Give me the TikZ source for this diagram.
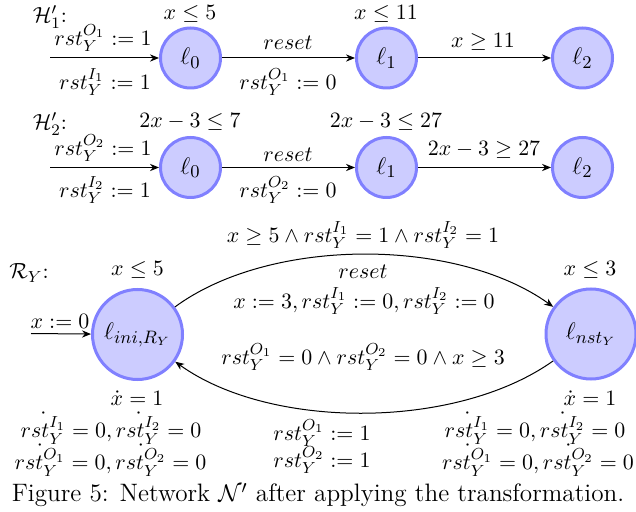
\documentclass[tikz,border=0pt]{standalone}
\usetikzlibrary{arrows.meta}
\DeclareMathSizes{10.9}{10.9}{7.8}{6}
\begin{document}
\begin{tikzpicture}[x=0.5pt,y=-0.5pt,
  loc/.style={circle, draw=blue!50, fill=blue!20, line width=1.5pt, minimum size=30pt, inner sep=0pt, font=\fontsize{12.5}{15}\selectfont},
  bigloc/.style={loc, minimum size=45pt},
  arr/.style={-{Stealth[length=4.5pt,width=3.6pt]}, line width=0.5pt},
  lbl/.style={inner sep=0pt, font=\fontsize{10.9}{13}\selectfont}]
\useasboundingbox (0,0) rectangle (636,512);
% Row 1
\node[lbl] (h1) at (50,17) {$\mathcal{H}'_1$:};
\node[loc] (a0) at (190.5,58) {$\ell_0$};
\node[loc] (a1) at (386.5,58) {$\ell_1$};
\node[loc] (a2) at (582.5,58) {$\ell_2$};
\coordinate (a0in) at (50,58);
\draw[arr] (a0in) -- (a0);
\draw[arr] (a0) -- (a1);
\draw[arr] (a1) -- (a2);
\node[lbl] (a0inv) at (190,14) {$x \leq 5$};
\node[lbl] (a1inv) at (386,13.5) {$x \leq 11$};
\node[lbl] (a0up) at (103,38) {$rst^{O_1}_Y := 1$};
\node[lbl] (a0dn) at (105,82) {$rst^{I_1}_Y := 1$};
\node[lbl] (a01up) at (288,43) {$reset$};
\node[lbl] (a01dn) at (288,82) {$rst^{O_1}_Y := 0$};
\node[lbl] (a12up) at (483,42) {$x \geq 11$};
% Row 2
\node[lbl] (h2) at (50,124) {$\mathcal{H}'_2$:};
\node[loc] (b0) at (190.5,167.5) {$\ell_0$};
\node[loc] (b1) at (386.5,167.5) {$\ell_1$};
\node[loc] (b2) at (582.5,167.5) {$\ell_2$};
\coordinate (b0in) at (50,167.5);
\draw[arr] (b0in) -- (b0);
\draw[arr] (b0) -- (b1);
\draw[arr] (b1) -- (b2);
\node[lbl] (b0inv) at (190,122) {$2x-3 \leq 7$};
\node[lbl] (b1inv) at (386,122) {$2x-3 \leq 27$};
\node[lbl] (b0up) at (103,148) {$rst^{O_2}_Y := 1$};
\node[lbl] (b0dn) at (105,190) {$rst^{I_2}_Y := 1$};
\node[lbl] (b01up) at (288,155) {$reset$};
\node[lbl] (b01dn) at (288,190) {$rst^{O_2}_Y := 0$};
\node[lbl] (b12up) at (484,150) {$2x-3 \geq 27$};
% Row 3
\node[lbl] (hr) at (29,273) {$\mathcal{R}_Y$:};
\node[bigloc] (ini) at (137.5,334.5) {$\ell_{ini,R_Y}$};
\node[bigloc] (nst) at (591,334) {$\ell_{nst_Y}$};
\coordinate (iniin) at (31,333.5);
\draw[arr] (iniin) -- (ini);
\node[lbl] (iniinl) at (60,321) {$x := 0$};
\node[lbl] (iniinv) at (137.5,270) {$x \leq 5$};
\node[lbl] (nstinv) at (590,270) {$x \leq 3$};
\draw[arr] (ini) .. controls (270,237) and (456,237) .. (nst);
\draw[arr] (nst) .. controls (456,430) and (270,430) .. (ini);
\node[lbl] (guard1) at (363,235) {$x \geq 5 \land rst^{I_1}_Y = 1 \land rst^{I_2}_Y = 1$};
\node[lbl] (reset1) at (363,272) {$reset$};
\node[lbl] (assign1) at (364,301) {$x := 3, rst^{I_1}_Y := 0, rst^{I_2}_Y := 0$};
\node[lbl] (guard2) at (363,357) {$rst^{O_1}_Y = 0 \land rst^{O_2}_Y = 0 \land x \geq 3$};
\node[lbl] (assign2a) at (322,433) {$rst^{O_1}_Y := 1$};
\node[lbl] (assign2b) at (322,460) {$rst^{O_2}_Y := 1$};
\node[lbl] (inif1) at (137,398) {$\dot{x} = 1$};
\node[lbl] (inif2) at (111,428) {$\dot{rst^{I_1}_Y} = 0, \dot{rst^{I_2}_Y} = 0$};
\node[lbl] (inif3) at (110.5,460) {$\dot{rst^{O_1}_Y} = 0, \dot{rst^{O_2}_Y} = 0$};
\node[lbl] (nstf1) at (590,398) {$\dot{x} = 1$};
\node[lbl] (nstf2) at (535,428) {$\dot{rst^{I_1}_Y} = 0, \dot{rst^{I_2}_Y} = 0$};
\node[lbl] (nstf3) at (538,460) {$\dot{rst^{O_1}_Y} = 0, \dot{rst^{O_2}_Y} = 0$};
% Caption
\node[inner sep=0pt, font=\fontsize{12.6}{15}\selectfont] (cap) at (318,495) {Figure 5: Network $\mathcal{N}'$ after applying the transformation.};
\end{tikzpicture}
\end{document}
